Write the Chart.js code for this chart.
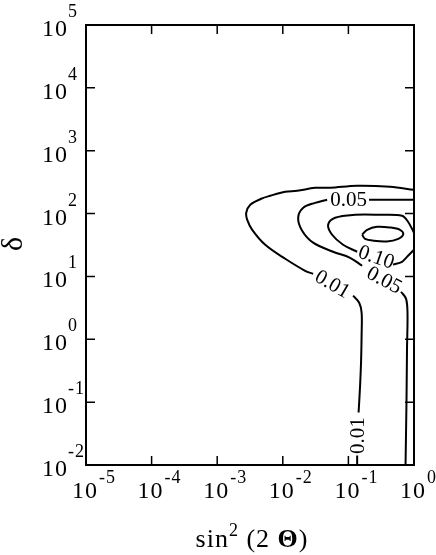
<!DOCTYPE html>
<html>
<head>
<meta charset="utf-8">
<script src="https://cdn.jsdelivr.net/npm/chart.js@4.4.0/dist/chart.umd.min.js"></script>
<style>
  html, body { margin: 0; padding: 0; background: #fff; }
  #wrap { width: 436px; height: 555px; }
</style>
</head>
<body>
<div id="wrap"><canvas id="contourChart" width="436" height="555"></canvas></div>
<script>
// axis decades
const xTickValues = [1e-5, 1e-4, 1e-3, 1e-2, 1e-1, 1];
const xTickExps = ['-5', '-4', '-3', '-2', '-1', '0'];
const yTickValues = [1e-2, 1e-1, 1, 1e1, 1e2, 1e3, 1e4, 1e5];
const yTickExps = ['-2', '-1', '0', '1', '2', '3', '4', '5'];

// contour 0.01 (three pieces, broken by its labels)
const c001a = [
  { x: 1.0, y: 239 }, { x: 0.432, y: 267 }, { x: 0.136, y: 277 }, { x: 0.0526, y: 257 },
  { x: 0.0311, y: 257 }, { x: 0.01655, y: 230 }, { x: 0.01089, y: 222 }, { x: 0.00643, y: 192 },
  { x: 0.00469, y: 172 }, { x: 0.00319, y: 138 }, { x: 0.00277, y: 103 }, { x: 0.00287, y: 79.6 },
  { x: 0.00342, y: 55.2 }, { x: 0.0054, y: 31.9 }, { x: 0.01089, y: 19.1 }, { x: 0.0219, y: 12.3 },
  { x: 0.029, y: 11.0 }
];
const c001b = [
  { x: 0.118, y: 4.94 }, { x: 0.146, y: 3.82 }, { x: 0.159, y: 2.65 }, { x: 0.159, y: 1.19 },
  { x: 0.156, y: 0.442 }, { x: 0.151, y: 0.19 }, { x: 0.143, y: 0.0683 }
];
const c001c = [{ x: 0.136, y: 0.01416 }, { x: 0.136, y: 0.01 }];

// contour 0.05
const c005a = [{ x: 1.0, y: 166 }, { x: 0.612, y: 166 }, { x: 0.2065, y: 166 }];
const c005b = [
  { x: 0.0474, y: 166 }, { x: 0.0311, y: 148 }, { x: 0.0205, y: 124 }, { x: 0.01714, y: 85.7 },
  { x: 0.01972, y: 53.3 }, { x: 0.029, y: 34.4 }, { x: 0.0585, y: 24.7 }, { x: 0.106, y: 19.8 },
  { x: 0.162, y: 14.8 }
];
const c005c = [
  { x: 0.634, y: 5.71 }, { x: 0.755, y: 4.43 }, { x: 0.796, y: 2.65 }, { x: 0.782, y: 0.685 },
  { x: 0.769, y: 0.11 }, { x: 0.743, y: 0.01 }
];

// contour 0.10
const c010a = [
  { x: 1.0, y: 49.5 }, { x: 0.811, y: 74.1 }, { x: 0.656, y: 92.3 }, { x: 0.303, y: 95.7 },
  { x: 0.1265, y: 95.7 }, { x: 0.0628, y: 85.7 }, { x: 0.0491, y: 66.4 }, { x: 0.0565, y: 46.0 },
  { x: 0.083, y: 31.9 }, { x: 0.136, y: 24.7 }
];
const c010b = [{ x: 0.479, y: 15.4 }, { x: 0.656, y: 17.1 }, { x: 0.811, y: 21.3 }, { x: 1.0, y: 26.6 }];

// innermost closed contour
const cInner = [
  { x: 0.162, y: 46 }, { x: 0.193, y: 55.2 }, { x: 0.2735, y: 61.7 }, { x: 0.432, y: 60.1 },
  { x: 0.612, y: 55.2 }, { x: 0.687, y: 47.2 }, { x: 0.577, y: 39.7 }, { x: 0.384, y: 36 },
  { x: 0.2405, y: 37 }, { x: 0.1795, y: 39.7 }, { x: 0.162, y: 46 }
];

// contour labels (value positions)
const labelTexts = ['0.05', '0.10', '0.05', '0.01', '0.01'];
const labelX = [0.1007, 0.264, 0.349, 0.0565, 0.1406];
const labelY = [160, 19.8, 8.55, 7.38, 0.0294];
const labelAngles = [0, 19, 28, 30, -90];

const serif = '"Liberation Serif", "Times New Roman", serif';

const decorations = {
    id: 'decorations',
    afterDraw(chart) {
        const ctx = chart.ctx;
        const a = chart.chartArea;
        const xs = chart.scales.x;
        const ys = chart.scales.y;
        ctx.save();
        ctx.strokeStyle = '#000';
        ctx.fillStyle = '#000';

        // frame
        ctx.lineWidth = 2;
        ctx.strokeRect(a.left, a.top, a.right - a.left, a.bottom - a.top);

        // inward ticks
        ctx.lineWidth = 1.5;
        ctx.beginPath();
        xTickValues.forEach(v => {
            const px = xs.getPixelForValue(v);
            ctx.moveTo(px, a.bottom); ctx.lineTo(px, a.bottom - 9);
            ctx.moveTo(px, a.top); ctx.lineTo(px, a.top + 9);
        });
        yTickValues.forEach(v => {
            const py = ys.getPixelForValue(v);
            ctx.moveTo(a.left, py); ctx.lineTo(a.left + 9, py);
            ctx.moveTo(a.right, py); ctx.lineTo(a.right - 9, py);
        });
        ctx.stroke();

        // tick labels: 10 with superscript
        ctx.textBaseline = 'alphabetic';
        ctx.textAlign = 'left';
        ctx.letterSpacing = '1px';
        xTickValues.forEach((v, i) => {
            const px = xs.getPixelForValue(v);
            ctx.font = '24px ' + serif;
            const w = ctx.measureText('10').width;
            ctx.fillText('10', px - w / 2 - 1, a.bottom + 33);
            ctx.font = '18px ' + serif;
            ctx.fillText(xTickExps[i], px + w / 2, a.bottom + 18);
        });
        yTickValues.forEach((v, i) => {
            const py = ys.getPixelForValue(v);
            ctx.font = '24px ' + serif;
            const w = ctx.measureText('10').width;
            ctx.fillText('10', a.left - 18 - w, py + 11);
            ctx.font = '18px ' + serif;
            ctx.fillText(yTickExps[i], a.left - 18, py - 8);
        });

        // x title: sin^2 (2 Θ)
        const parts = [
            { t: 'sin', f: '26px ' + serif, dy: 0 },
            { t: '2', f: '18px ' + serif, dy: -11 },
            { t: ' (2 ', f: '26px ' + serif, dy: 0 },
            { t: 'Θ', f: 'bold 26px ' + serif, dy: 0 },
            { t: ')', f: '26px ' + serif, dy: 0 }
        ];
        let total = 0;
        parts.forEach(p => { ctx.font = p.f; p.w = ctx.measureText(p.t).width; total += p.w; });
        let cx = (a.left + a.right) / 2 + 2 - total / 2;
        parts.forEach(p => {
            ctx.font = p.f;
            ctx.fillText(p.t, cx, 547 + p.dy);
            cx += p.w;
        });
        ctx.letterSpacing = '0px';

        // y title: δ
        ctx.save();
        ctx.translate(14, 244);
        ctx.rotate(-Math.PI / 2);
        ctx.textAlign = 'center';
        ctx.textBaseline = 'middle';
        ctx.font = '30px ' + serif;
        ctx.fillText('δ', 0, 0);
        ctx.restore();

        // contour labels
        labelTexts.forEach((t, i) => {
            const px = xs.getPixelForValue(labelX[i]);
            const py = ys.getPixelForValue(labelY[i]);
            ctx.save();
            ctx.translate(px, py);
            ctx.rotate(labelAngles[i] * Math.PI / 180);
            ctx.textAlign = 'center';
            ctx.textBaseline = 'middle';
            ctx.font = '21px ' + serif;
            ctx.fillText(t, 0, 0);
            ctx.restore();
        });
        ctx.restore();
    }
};

const pieces = [c001a, c001b, c001c, c005a, c005b, c005c, c010a, c010b, cInner];

new Chart(document.getElementById('contourChart'), {
    type: 'scatter',
    data: {
        datasets: pieces.map(p => ({
            data: p,
            showLine: true,
            borderColor: '#000',
            borderWidth: 2,
            pointRadius: 0,
            tension: 0.35,
            fill: false
        }))
    },
    options: {
        responsive: false,
        animation: false,
        layout: { padding: { left: 86, right: 22, top: 25, bottom: 90 } },
        plugins: {
            legend: { display: false },
            tooltip: { enabled: false }
        },
        scales: {
            x: { type: 'logarithmic', min: 1e-5, max: 1, display: false },
            y: { type: 'logarithmic', min: 1e-2, max: 1e5, display: false }
        }
    },
    plugins: [decorations]
});
</script>
</body>
</html>
